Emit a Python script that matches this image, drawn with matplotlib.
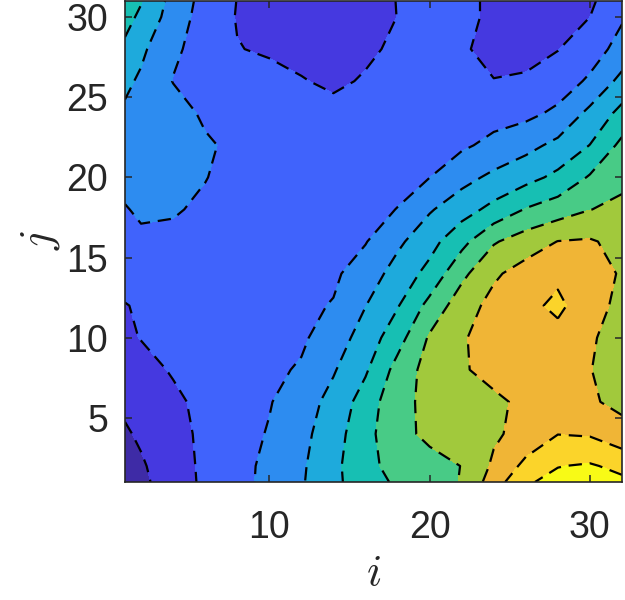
import numpy as np
import matplotlib
matplotlib.use("Agg")
import matplotlib.pyplot as plt
from matplotlib.colors import ListedColormap, BoundaryNorm

# ------------------------------------------------------------------ data
i_vals = [1, 2, 4, 6, 8, 10, 12, 14, 16, 18, 20, 22, 24, 26, 28, 30, 32]
j_vals = [1, 2, 4, 6, 8, 10, 12, 14, 16, 18, 20, 22, 24, 26, 28, 30, 31]

# one row per j value, one entry per i value
z_rows = [
    [0.40, 0.78, 1.52, 2.18, 2.69, 3.26, 3.90, 4.77, 5.55, 6.16, 6.60, 7.05, 8.50, 9.90, 10.25, 10.30, 10.20],
    [0.53, 0.88, 1.57, 2.19, 2.69, 3.23, 3.86, 4.72, 5.80, 6.25, 6.62, 7.02, 8.17, 9.26, 9.97, 10.10, 9.75],
    [0.88, 1.15, 1.70, 2.19, 2.62, 3.07, 3.72, 4.56, 5.70, 6.65, 7.25, 7.50, 7.85, 8.34, 8.98, 8.90, 8.35],
    [1.20, 1.40, 1.82, 2.24, 2.59, 2.94, 3.54, 4.32, 5.45, 6.70, 7.25, 7.51, 7.82, 8.20, 8.40, 8.12, 7.75],
    [1.50, 1.70, 2.08, 2.33, 2.57, 2.80, 3.10, 3.91, 4.87, 6.35, 7.40, 7.90, 8.30, 8.55, 8.60, 8.02, 7.70],
    [1.85, 2.03, 2.20, 2.38, 2.56, 2.76, 2.85, 3.50, 4.42, 5.60, 7.12, 7.92, 8.35, 8.65, 8.70, 8.10, 7.65],
    [1.97, 2.08, 2.25, 2.40, 2.55, 2.70, 2.82, 3.05, 3.98, 4.93, 6.30, 7.55, 8.30, 8.75, 9.20, 8.45, 7.70],
    [2.28, 2.35, 2.45, 2.50, 2.55, 2.60, 2.75, 2.85, 3.45, 4.40, 5.30, 6.75, 7.85, 8.40, 8.80, 8.45, 7.90],
    [2.70, 2.85, 2.80, 2.60, 2.55, 2.50, 2.60, 2.75, 2.95, 3.80, 4.65, 5.70, 6.90, 7.50, 8.02, 8.10, 7.70],
    [2.95, 3.12, 3.08, 2.85, 2.60, 2.45, 2.45, 2.55, 2.75, 3.02, 3.90, 4.58, 5.29, 6.06, 6.50, 6.98, 7.25],
    [3.25, 3.30, 3.20, 3.03, 2.70, 2.50, 2.40, 2.45, 2.55, 2.75, 2.99, 3.67, 4.22, 4.67, 5.24, 6.10, 6.73],
    [3.55, 3.50, 3.35, 3.12, 2.80, 2.55, 2.40, 2.35, 2.40, 2.50, 2.65, 2.85, 3.25, 3.70, 4.25, 5.02, 6.25],
    [3.85, 3.70, 3.40, 2.85, 2.60, 2.45, 2.35, 2.25, 2.25, 2.30, 2.40, 2.50, 2.65, 2.75, 3.20, 4.25, 5.30],
    [4.20, 3.85, 2.97, 2.60, 2.40, 2.25, 2.05, 1.85, 2.08, 2.25, 2.35, 2.25, 2.02, 2.10, 2.50, 3.15, 4.30],
    [4.85, 4.20, 3.15, 2.65, 2.03, 1.90, 1.75, 1.70, 1.85, 2.15, 2.30, 2.08, 1.80, 1.75, 1.97, 2.55, 3.35],
    [5.25, 4.85, 3.50, 2.60, 1.95, 1.70, 1.60, 1.60, 1.70, 2.01, 2.30, 2.20, 1.85, 1.70, 1.75, 2.00, 2.90],
    [5.45, 5.05, 3.65, 2.65, 1.98, 1.70, 1.60, 1.60, 1.70, 2.02, 2.30, 2.20, 1.85, 1.70, 1.72, 1.93, 2.30],
]

levels = list(range(0, 12))
band_colors = ['#3e2ba6', '#4539e0', '#4063fc', '#2d8cf0', '#1eaadc', '#17bfb3',
               '#48cb86', '#a1c93c', '#f0b536', '#fbd42a', '#f8fa16']

x_ticks = [10, 20, 30]
y_ticks = [5, 10, 15, 20, 25, 30]

# ------------------------------------------------------------------ plot
plt.rcParams['font.family'] = ['Liberation Sans', 'DejaVu Sans']
plt.rcParams['mathtext.fontset'] = 'cm'

fig = plt.figure(figsize=(6.25, 6.0), dpi=100)
ax = fig.add_axes([125 / 625, 1 - 482 / 600, 497 / 625, 481 / 600])

I, J = np.meshgrid(i_vals, j_vals)
Z = np.array(z_rows)

cmap = ListedColormap(band_colors)
norm = BoundaryNorm(levels, cmap.N)
ax.contourf(I, J, Z, levels=levels, cmap=cmap, norm=norm)
ax.contour(I, J, Z, levels=levels[1:-1], colors='k', linewidths=1.6,
           linestyles=[(0, (6.0, 3.5))])

ax.set_xlim(1, 32)
ax.set_ylim(1, 31)
ax.set_xticks(x_ticks)
ax.set_yticks(y_ticks)

edge = '#262626'
for s in ax.spines.values():
    s.set_color(edge)
    s.set_linewidth(1.2)
ax.tick_params(direction='in', length=5, width=1.1, color=edge, labelcolor=edge,
               labelsize=27, top=True, right=True)
ax.tick_params(axis='x', pad=20)
ax.tick_params(axis='y', pad=12)

ax.set_xlabel('$i$', fontsize=32, color=edge)
ax.set_ylabel('$j$', fontsize=32, color=edge)
ax.xaxis.label.set_va('center')
ax.yaxis.label.set_va('center')
ax.xaxis.set_label_coords(0.5, -0.19)
ax.yaxis.set_label_coords(-0.17, 0.503)

fig.savefig('out.png', dpi=100)
